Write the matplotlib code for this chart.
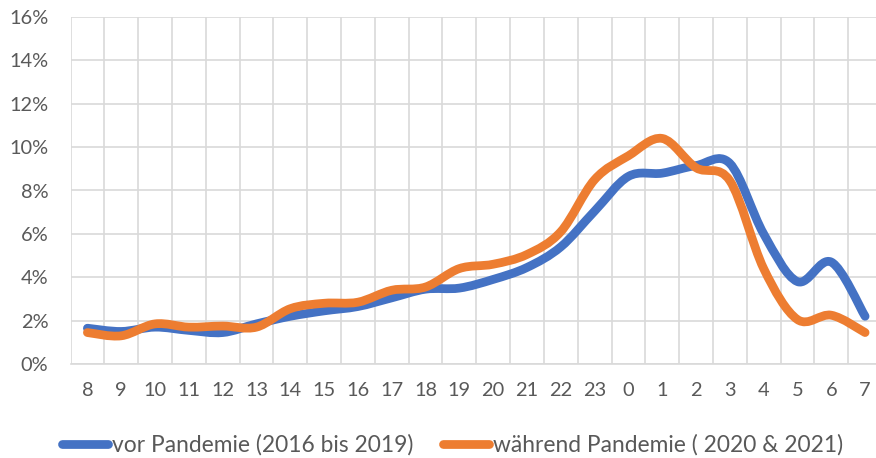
import matplotlib
matplotlib.use("Agg")
import matplotlib.pyplot as plt
from matplotlib.path import Path
from matplotlib.patches import PathPatch
from matplotlib.lines import Line2D
from matplotlib.ticker import FuncFormatter, MultipleLocator
import numpy as np

hours = ["8", "9", "10", "11", "12", "13", "14", "15", "16", "17", "18", "19",
         "20", "21", "22", "23", "0", "1", "2", "3", "4", "5", "6", "7"]
vor = [1.65, 1.5, 1.7, 1.55, 1.45, 1.85, 2.2, 2.45, 2.65, 3.05, 3.45, 3.5,
       3.9, 4.45, 5.4, 7.05, 8.65, 8.8, 9.15, 9.25, 6.0, 3.8, 4.7, 2.2]
waehrend = [1.45, 1.3, 1.85, 1.7, 1.75, 1.7, 2.55, 2.8, 2.85, 3.4, 3.55, 4.4,
            4.6, 5.05, 6.1, 8.5, 9.6, 10.4, 9.05, 8.45, 4.4, 2.05, 2.25, 1.45]
labels = ["vor Pandemie (2016 bis 2019)", "während Pandemie ( 2020 & 2021)"]
colors = ["#4472C4", "#ED7D31"]

plt.rcParams['font.family'] = ['Lato', 'DejaVu Sans']
text_color = "#595959"
LW = 6.3

fig = plt.figure(figsize=(8.76, 4.58), dpi=100)
ax = fig.add_axes([70.5 / 876, 94 / 458, (882 - 70.5) / 876, (364 - 17) / 458])


def smooth_path(xs, ys):
    # Excel-style smoothed line: cubic Bezier with Catmull-Rom tangents
    xs = np.asarray(xs, float)
    ys = np.asarray(ys, float)
    n = len(xs)
    verts = [(xs[0], ys[0])]
    codes = [Path.MOVETO]
    for i in range(n - 1):
        p0 = np.array([xs[max(i - 1, 0)], ys[max(i - 1, 0)]])
        p1 = np.array([xs[i], ys[i]])
        p2 = np.array([xs[i + 1], ys[i + 1]])
        p3 = np.array([xs[min(i + 2, n - 1)], ys[min(i + 2, n - 1)]])
        c1 = p1 + (p2 - p0) / 6.0
        c2 = p2 - (p3 - p1) / 6.0
        verts += [tuple(c1), tuple(c2), tuple(p2)]
        codes += [Path.CURVE4, Path.CURVE4, Path.CURVE4]
    return Path(verts, codes)


x = np.arange(len(hours))
for vals, col in zip([vor, waehrend], colors):
    path = smooth_path(x, np.array(vals) / 100.0)
    ax.add_patch(PathPatch(path, facecolor="none", edgecolor=col, lw=LW,
                           capstyle="round", joinstyle="round", zorder=3))

ax.set_xlim(-0.5, len(hours) - 0.5)
ax.set_ylim(0, 0.16)
ax.yaxis.set_major_locator(MultipleLocator(0.02))
ax.yaxis.set_major_formatter(FuncFormatter(lambda v, p: f"{v * 100:.0f}%"))
ax.set_xticks(x)
ax.set_xticklabels(hours)
ax.set_xticks(np.arange(-0.5, len(hours), 1.0), minor=True)

ax.grid(True, which="major", axis="y", color="#D9D9D9", lw=1.2)
ax.grid(True, which="minor", axis="x", color="#D9D9D9", lw=1.2)
ax.set_axisbelow(True)
for s in ["top", "right", "left"]:
    ax.spines[s].set_visible(False)
ax.spines["bottom"].set_color("#D9D9D9")
ax.spines["bottom"].set_linewidth(1.2)
ax.tick_params(axis="both", which="both", length=0, labelsize=14.4,
               labelcolor=text_color)
ax.tick_params(axis="x", pad=13)
ax.tick_params(axis="y", pad=16)

handles = [Line2D([], [], color=c, lw=LW, solid_capstyle="round") for c in colors]
fig.legend(handles, labels, loc="center left", bbox_to_anchor=(62 / 876, 1 - 445 / 458),
           ncol=2, frameon=False, fontsize=16.4, handlelength=2.0,
           handletextpad=0.2, columnspacing=1.3, labelcolor=text_color,
           borderpad=0, borderaxespad=0)

fig.savefig("out.png", dpi=100)
